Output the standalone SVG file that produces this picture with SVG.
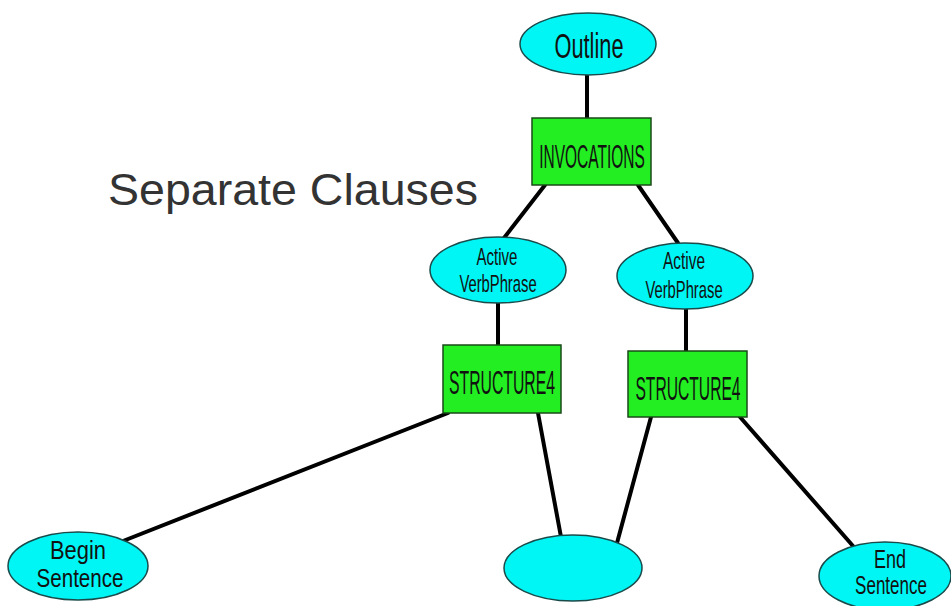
<svg xmlns="http://www.w3.org/2000/svg" width="951" height="606" viewBox="0 0 951 606">
<style>
.el{fill:#00f5f5;stroke:#1a4a4a;stroke-width:1.5}
.bx{fill:#22ee22;stroke:#1a4a1a;stroke-width:1.5}
.t{font-family:"Liberation Sans",Arial,sans-serif;fill:#111;text-anchor:middle}
.c line{stroke:#000;stroke-width:4;stroke-linecap:round}
</style>
<rect width="951" height="606" fill="#fff"/>
<text x="108" y="205" font-family="Liberation Sans,Arial,sans-serif" font-size="45" fill="#333" textLength="370" lengthAdjust="spacingAndGlyphs">Separate Clauses</text>
<g class="c" id="connectors">
<line x1="587" y1="75" x2="587" y2="118"/>
<line x1="545" y1="185" x2="504" y2="238"/>
<line x1="638" y1="185" x2="678" y2="243"/>
<line x1="498" y1="303" x2="498" y2="345"/>
<line x1="686" y1="309" x2="686" y2="351"/>
<line x1="448" y1="413" x2="123" y2="541"/>
<line x1="538" y1="413" x2="561" y2="537"/>
<line x1="651" y1="417" x2="617" y2="543"/>
<line x1="740" y1="417" x2="853" y2="546"/>
</g>
<g id="outline"><ellipse class="el" cx="588" cy="44" rx="68" ry="31"/><text class="t" transform="translate(589,58) scale(0.605,1)" font-size="36">Outline</text></g>
<g id="invocations"><rect class="bx" x="532" y="118" width="119" height="67"/><text class="t" transform="translate(592,168) scale(0.47,1)" font-size="33">INVOCATIONS</text></g>
<g id="avp1"><ellipse class="el" cx="498" cy="270" rx="68" ry="33"/><text class="t" transform="translate(497,265) scale(0.627,1)" font-size="24">Active</text><text class="t" transform="translate(498,292) scale(0.616,1)" font-size="24">VerbPhrase</text></g>
<g id="avp2"><ellipse class="el" cx="685" cy="276" rx="68" ry="33"/><text class="t" transform="translate(684,269) scale(0.642,1)" font-size="24">Active</text><text class="t" transform="translate(684,298) scale(0.616,1)" font-size="24">VerbPhrase</text></g>
<g id="s4a"><rect class="bx" x="443" y="345" width="118" height="68"/><text class="t" transform="translate(502,394) scale(0.464,1)" font-size="34">STRUCTURE4</text></g>
<g id="s4b"><rect class="bx" x="628" y="351" width="119" height="66"/><text class="t" transform="translate(688,400) scale(0.46,1)" font-size="34">STRUCTURE4</text></g>
<g id="begin"><ellipse class="el" cx="78" cy="566" rx="70" ry="34"/><text class="t" transform="translate(78,559) scale(0.876,1)" font-size="25">Begin</text><text class="t" transform="translate(80,587) scale(0.824,1)" font-size="25">Sentence</text></g>
<g id="middle"><ellipse class="el" cx="573" cy="568" rx="69" ry="33"/></g>
<g id="end"><ellipse class="el" cx="885" cy="576" rx="66" ry="34"/><text class="t" transform="translate(890,568) scale(0.72,1)" font-size="25">End</text><text class="t" transform="translate(891,594) scale(0.68,1)" font-size="25">Sentence</text></g>
</svg>
